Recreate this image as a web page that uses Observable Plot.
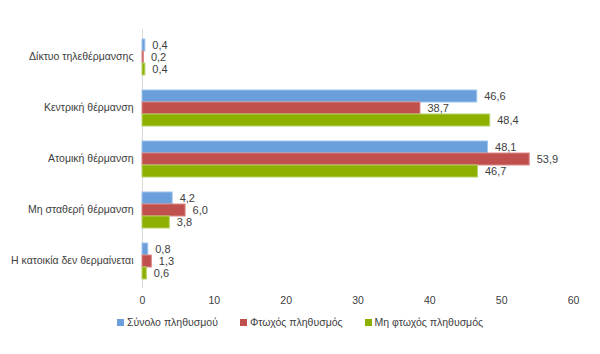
<!DOCTYPE html>
<html><head><meta charset="utf-8">
<script src="https://cdn.jsdelivr.net/npm/d3@7"></script>
<script src="https://cdn.jsdelivr.net/npm/@observablehq/plot@0.6"></script>
<style>
body{margin:0;background:#fff;font-family:"Liberation Sans",Arial,sans-serif;}
#legend{display:flex;justify-content:center;gap:22px;font-size:10.5px;color:#404040;margin-top:0px;padding-left:0px}
#legend span.sw{display:inline-block;width:7px;height:7px;margin-right:3px;vertical-align:0px}
</style></head>
<body><div id="chart"></div><div id="legend"></div>
<script>
const categories = ["Δίκτυο τηλεθέρμανσης","Κεντρική θέρμανση","Ατομική θέρμανση","Μη σταθερή θέρμανση","Η κατοικία δεν θερμαίνεται"];
const series = ["Σύνολο πληθυσμού","Φτωχός πληθυσμός","Μη φτωχός πληθυσμός"];
const total = [0.4, 46.6, 48.1, 4.2, 0.8];
const poor = [0.2, 38.7, 53.9, 6.0, 1.3];
const nonPoor = [0.4, 48.4, 46.7, 3.8, 0.6];
const xTicks = [0,10,20,30,40,50,60];
const colors = ["#6a9fdb","#c0504d","#8db000"];
const strokes = ["#9ec3ec","#d98a88","#b5d266"];

const values = [total, poor, nonPoor];
const data = [];
categories.forEach((c,i)=>series.forEach((s,j)=>data.push({cat:c, ser:s, v:values[j][i]})));
const fmt = v => v.toFixed(1).replace(".", ",");

const chart = Plot.plot({
  width: 600, height: 316,
  marginLeft: 142, marginRight: 27, marginTop: 30, marginBottom: 30,
  style: {fontFamily: "Liberation Sans, Arial, sans-serif", fontSize: "10.5px", color: "#404040", background: "#fff"},
  x: {domain: [0,60], ticks: xTicks, tickSize: 0, tickPadding: 16, label: null},
  fy: {domain: categories, paddingInner: 0.24, paddingOuter: 0.12, label: null, tickSize: 0, tickPadding: 9},
  y: {domain: series, padding: 0.04, axis: null},
  color: {domain: series, range: colors},
  marks: [
    Plot.ruleX([0], {stroke: "#d9d9d9", insetTop: -8, insetBottom: -8}),
    Plot.barX(data, {fy: "cat", y: "ser", x: "v", fill: "ser", stroke: d => strokes[series.indexOf(d.ser)], strokeWidth: 1}),
    Plot.text(data, {fy: "cat", y: "ser", x: "v", text: d => fmt(d.v), dx: 7, textAnchor: "start", fill: "#404040", fontSize: 11})
  ]
});
document.getElementById("chart").appendChild(chart);

const leg = document.getElementById("legend");
series.forEach((s,j)=>{
  const d = document.createElement("div");
  d.innerHTML = `<span class="sw" style="background:${colors[j]}"></span>${s}`;
  leg.appendChild(d);
});
</script></body></html>
